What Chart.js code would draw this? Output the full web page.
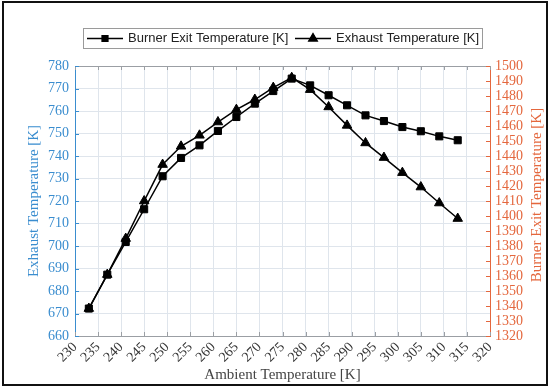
<!DOCTYPE html>
<html>
<head>
<meta charset="utf-8">
<script src="https://cdn.jsdelivr.net/npm/chart.js@4.4.0/dist/chart.umd.min.js"></script>
<style>
  html, body { margin: 0; padding: 0; background: #fff; }
</style>
</head>
<body>
<canvas id="tempChart" width="550" height="389"></canvas>
<script>
// ---------- data ----------
const ambientTemp = [233, 237, 241, 245, 249, 253, 257, 261, 265, 269, 273,
                     277, 281, 285, 289, 293, 297, 301, 305, 309, 313];
const burnerExitTemp = [1338.3, 1360.9, 1382.7, 1404.5, 1426.5, 1438.7, 1447.1, 1456.7, 1466.0, 1474.9, 1483.3,
                        1491.6, 1487.1, 1480.5, 1473.8, 1467.1, 1463.3, 1459.3, 1456.5, 1453.1, 1450.5];
const exhaustTemp = [672.2, 687.3, 703.3, 720.0, 736.2, 744.3, 749.2, 755.1, 760.6, 765.1, 770.4,
                     774.8, 769.5, 761.8, 753.6, 745.8, 739.3, 732.6, 726.2, 719.1, 712.2];

const xRange = [230, 320];      // ambient temperature axis, step 5
const leftRange = [660, 780];   // exhaust axis, step 10
const rightRange = [1320, 1500]; // burner exit axis, step 10

const seriesLabels = ['Burner Exit Temperature [K]', 'Exhaust Temperature [K]'];
const xTitle = 'Ambient Temperature [K]';
const leftTitle = 'Exhaust Temperature [K]';
const rightTitle = 'Burner Exit Temperature [K]';

// ---------- styles ----------
const BLUE = '#3a8dcf';
const ORANGE = '#e4673d';
const GRID = '#dfe5ec';
const AXIS_GRAY = '#9b9fa4';
const SERIF = '"Liberation Serif", "Times New Roman", serif';
const SANS = '"Liberation Sans", Arial, sans-serif';

const toPoints = (xs, ys) => xs.map((x, i) => ({ x, y: ys[i] }));
const plain = v => String(v);

// inward ticks, top frame line, legend box, right title, outer frame
const figureDecor = {
  id: 'figureDecor',
  beforeDatasetsDraw(chart) {
    const { ctx, chartArea: a, scales } = chart;
    const al = v => Math.round(v) + 0.5;
    ctx.save();
    ctx.lineWidth = 1;

    ctx.strokeStyle = AXIS_GRAY;
    ctx.beginPath();
    ctx.moveTo(a.left, al(a.top));
    ctx.lineTo(a.right, al(a.top));
    scales.x.ticks.forEach(t => {
      const px = al(scales.x.getPixelForValue(t.value));
      ctx.moveTo(px, a.bottom); ctx.lineTo(px, a.bottom - 4);
      ctx.moveTo(px, a.top); ctx.lineTo(px, a.top + 4);
    });
    ctx.stroke();

    ctx.strokeStyle = BLUE;
    ctx.beginPath();
    scales.y.ticks.forEach(t => {
      const py = al(scales.y.getPixelForValue(t.value));
      ctx.moveTo(a.left, py); ctx.lineTo(a.left + 4, py);
    });
    ctx.stroke();

    ctx.strokeStyle = ORANGE;
    ctx.beginPath();
    scales.y1.ticks.forEach(t => {
      const py = al(scales.y1.getPixelForValue(t.value));
      ctx.moveTo(a.right, py); ctx.lineTo(a.right - 4, py);
    });
    ctx.stroke();
    ctx.restore();
  },
  afterDraw(chart) {
    const { ctx, chartArea: a } = chart;
    ctx.save();

    // right axis title, reading bottom to top
    ctx.translate(537, (a.top + a.bottom) / 2 - 6);
    ctx.rotate(-Math.PI / 2);
    ctx.fillStyle = ORANGE;
    ctx.font = '15px ' + SERIF;
    ctx.textAlign = 'center';
    ctx.textBaseline = 'middle';
    ctx.fillText(rightTitle, 0, 0);
    ctx.setTransform(1, 0, 0, 1, 0, 0);

    // legend
    ctx.fillStyle = '#fff';
    ctx.fillRect(83, 28, 400, 20);
    ctx.strokeStyle = '#9a9a9a';
    ctx.lineWidth = 1;
    ctx.strokeRect(83.5, 28.5, 399, 20);
    ctx.font = '13px ' + SANS;
    ctx.textBaseline = 'middle';
    ctx.textAlign = 'left';
    const ly = 38.5;
    const items = [
      { x0: 87, style: 'rect', label: seriesLabels[0] },
      { x0: 295, style: 'triangle', label: seriesLabels[1] }
    ];
    items.forEach(it => {
      ctx.strokeStyle = '#000';
      ctx.lineWidth = 1.3;
      ctx.beginPath();
      ctx.moveTo(it.x0, ly); ctx.lineTo(it.x0 + 36, ly);
      ctx.stroke();
      ctx.fillStyle = '#000';
      Chart.helpers.drawPoint(ctx, { pointStyle: it.style, radius: it.style === 'rect' ? 4.2 : 5, borderWidth: 1 }, it.x0 + 18, ly);
      ctx.fill();
      ctx.fillStyle = '#222';
      ctx.fillText(it.label, it.x0 + 41, ly);
    });

    // outer frame
    ctx.strokeStyle = '#111';
    ctx.lineWidth = 2;
    ctx.strokeRect(3, 2, 544, 383);
    ctx.restore();
  }
};

new Chart(document.getElementById('tempChart'), {
  type: 'line',
  data: {
    datasets: [{
      label: seriesLabels[0],
      data: toPoints(ambientTemp, burnerExitTemp),
      yAxisID: 'y1',
      borderColor: '#000',
      backgroundColor: '#000',
      borderWidth: 1.5,
      pointStyle: 'rect',
      pointRadius: 5,
      pointBorderWidth: 1,
      tension: 0
    }, {
      label: seriesLabels[1],
      data: toPoints(ambientTemp, exhaustTemp),
      yAxisID: 'y',
      borderColor: '#000',
      backgroundColor: '#000',
      borderWidth: 1.5,
      pointStyle: 'triangle',
      pointRadius: 5.5,
      pointBorderWidth: 1,
      tension: 0
    }]
  },
  options: {
    responsive: false,
    animation: false,
    layout: { padding: { top: 66, left: 0, right: 0, bottom: 0 } },
    plugins: {
      legend: { display: false },
      tooltip: { enabled: false }
    },
    scales: {
      x: {
        type: 'linear',
        min: xRange[0], max: xRange[1],
        ticks: {
          stepSize: 5, autoSkip: false, minRotation: 45, maxRotation: 45, padding: 3,
          color: '#333', font: { family: SERIF, size: 14 }, callback: plain
        },
        grid: { color: GRID, drawTicks: false },
        border: { color: AXIS_GRAY },
        title: {
          display: true, text: xTitle, color: '#444',
          font: { family: SERIF, size: 15 }, padding: { top: 0, bottom: 5 }
        },
        afterFit: s => { s.height = 53; }
      },
      y: {
        position: 'left',
        min: leftRange[0], max: leftRange[1],
        ticks: { stepSize: 10, autoSkip: false, padding: 6, color: BLUE, font: { family: SERIF, size: 14 }, callback: plain },
        grid: { color: GRID, drawTicks: false },
        border: { color: BLUE },
        title: {
          display: true, text: leftTitle, color: BLUE,
          font: { family: SERIF, size: 15 }, padding: { top: 25, bottom: 0 }
        },
        afterFit: s => { s.width = 75; }
      },
      y1: {
        position: 'right',
        min: rightRange[0], max: rightRange[1],
        ticks: { stepSize: 10, autoSkip: false, padding: 5, color: ORANGE, font: { family: SERIF, size: 14 }, callback: plain },
        grid: { display: false, drawTicks: false },
        border: { color: ORANGE },
        afterFit: s => { s.width = 60; }
      }
    }
  },
  plugins: [figureDecor]
});
</script>
</body>
</html>
